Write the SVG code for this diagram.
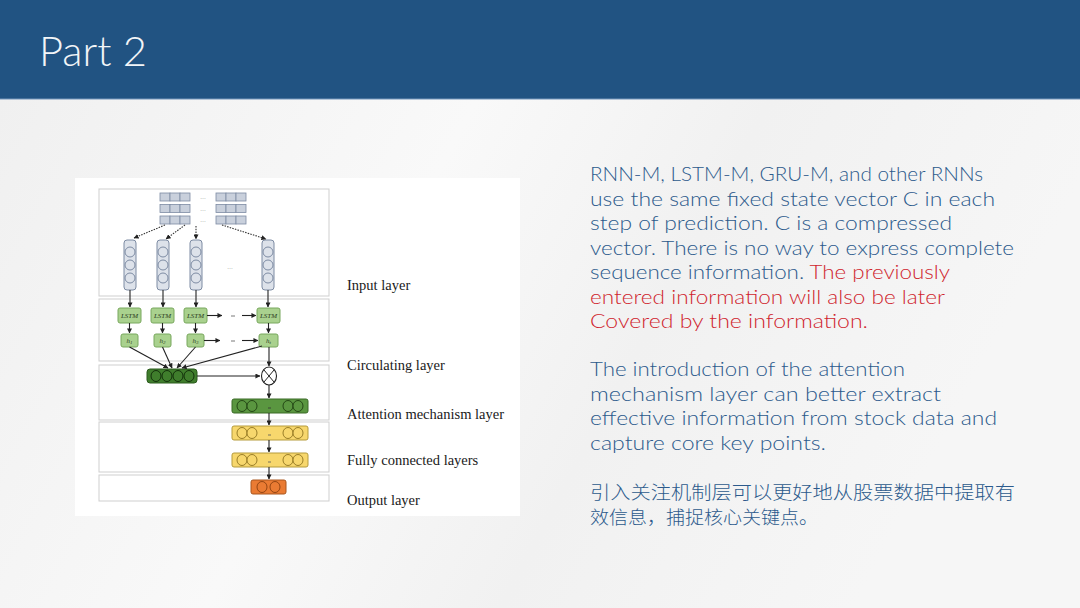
<svg xmlns="http://www.w3.org/2000/svg" width="1080" height="608" viewBox="0 0 1080 608">
<defs>
<linearGradient id="bg" x1="0" y1="0" x2="1" y2="0.3">
<stop offset="0" stop-color="#efefef"/>
<stop offset="0.45" stop-color="#f9f9f9"/>
<stop offset="0.7" stop-color="#f1f1f1"/>
<stop offset="1" stop-color="#f6f6f6"/>
</linearGradient>
<marker id="ah" viewBox="0 0 6 6" refX="5.5" refY="3" markerWidth="5" markerHeight="5" orient="auto" markerUnits="userSpaceOnUse">
<path d="M0,0 L6,3 L0,6 z" fill="#222"/>
</marker>
<style>
.sec{fill:#fff;stroke:#cfcfcf;stroke-width:1}
.cell{fill:#c9d0dc;stroke:#7d8ba3;stroke-width:0.8}
.cap{fill:#dde2ea;stroke:#7d8ba3;stroke-width:1}
.lstm{fill:#a9d18e;stroke:#79a85e;stroke-width:1}
.lt{font-family:"Liberation Serif",serif;font-style:italic;font-size:7px;fill:#2a3a20;text-anchor:middle}
.ln{stroke:#222;stroke-width:1.1;fill:none}
.dl{stroke:#333;stroke-width:1.1;fill:none;stroke-dasharray:1.5 1.2}
.lab{font-family:"Liberation Serif",serif;font-size:14.5px;fill:#1a1a1a}
.g1{fill:#3f7d2c;stroke:#2b5a1c;stroke-width:1}
.g1c{fill:#3f7d2c;stroke:#13300b;stroke-width:1}
.g2{fill:#5a9640;stroke:#3a6a26;stroke-width:1}
.g2c{fill:#5a9640;stroke:#1f3f12;stroke-width:0.9}
.y{fill:#f7d76d;stroke:#b59b3c;stroke-width:1}
.yc{fill:#f7d76d;stroke:#8f7420;stroke-width:0.9}
.o{fill:#ea7b33;stroke:#a9571f;stroke-width:1}
.oc{fill:#ea7b33;stroke:#8a3f10;stroke-width:0.9}
.tx{font-family:"Lato","Open Sans",sans-serif;font-size:19px;font-weight:300;fill:#2c5a8c}
.red{fill:#d01f2e}
.cjk{font-family:"Noto Sans CJK SC",sans-serif;font-size:18.5px;font-weight:300;fill:#2c5a8c}
.dots{font-family:"Liberation Sans",sans-serif;font-size:6px;fill:#555;text-anchor:middle}
</style>
</defs>

<rect x="0" y="0" width="1080" height="608" fill="url(#bg)"/>
<g id="header">
<rect x="0" y="0" width="1080" height="99" fill="#215382"/>
<line x1="0" y1="99" x2="1080" y2="99" stroke="#7496bb" stroke-width="1"/>
<text x="39" y="66" font-family="Lato,'Open Sans',sans-serif" font-size="41" font-weight="300" fill="#f2f5f8" textLength="108" lengthAdjust="spacingAndGlyphs">Part 2</text>
</g>

<g id="figure">
<rect x="75" y="178" width="445" height="338" fill="#fff"/>
<rect class="sec" x="99" y="189" width="230" height="107"/>
<rect class="sec" x="99" y="299" width="230" height="62"/>
<rect class="sec" x="99" y="365" width="230" height="55"/>
<rect class="sec" x="99" y="422" width="230" height="50"/>
<rect class="sec" x="99" y="475" width="230" height="26"/>
</g>

<g id="input-grids">
<rect class="cell" x="160" y="193" width="10" height="8"/><rect class="cell" x="170" y="193" width="10" height="8"/><rect class="cell" x="180" y="193" width="10" height="8"/>
<rect class="cell" x="160" y="204.5" width="10" height="8"/><rect class="cell" x="170" y="204.5" width="10" height="8"/><rect class="cell" x="180" y="204.5" width="10" height="8"/>
<rect class="cell" x="160" y="216" width="10" height="8"/><rect class="cell" x="170" y="216" width="10" height="8"/><rect class="cell" x="180" y="216" width="10" height="8"/>
<rect class="cell" x="216" y="193" width="10" height="8"/><rect class="cell" x="226" y="193" width="10" height="8"/><rect class="cell" x="236" y="193" width="10" height="8"/>
<rect class="cell" x="216" y="204.5" width="10" height="8"/><rect class="cell" x="226" y="204.5" width="10" height="8"/><rect class="cell" x="236" y="204.5" width="10" height="8"/>
<rect class="cell" x="216" y="216" width="10" height="8"/><rect class="cell" x="226" y="216" width="10" height="8"/><rect class="cell" x="236" y="216" width="10" height="8"/>
<text class="dots" x="203" y="199">…</text>
<text class="dots" x="203" y="211">…</text>
<text class="dots" x="203" y="222">…</text>
</g>

<g id="input-columns">
<rect class="cap" x="124" y="240" width="12" height="50" rx="3"/>
<circle class="cap" cx="130" cy="252" r="5"/><circle class="cap" cx="130" cy="265" r="5"/><circle class="cap" cx="130" cy="278" r="5"/>
<rect class="cap" x="157" y="240" width="12" height="50" rx="3"/>
<circle class="cap" cx="163" cy="252" r="5"/><circle class="cap" cx="163" cy="265" r="5"/><circle class="cap" cx="163" cy="278" r="5"/>
<rect class="cap" x="190" y="240" width="12" height="50" rx="3"/>
<circle class="cap" cx="196" cy="252" r="5"/><circle class="cap" cx="196" cy="265" r="5"/><circle class="cap" cx="196" cy="278" r="5"/>
<rect class="cap" x="262" y="240" width="12" height="50" rx="3"/>
<circle class="cap" cx="268" cy="252" r="5"/><circle class="cap" cx="268" cy="265" r="5"/><circle class="cap" cx="268" cy="278" r="5"/>
<text class="dots" x="230" y="269">…</text>
</g>

<g id="lstm-row">
<rect class="lstm" x="118" y="308" width="23" height="15" rx="2"/><text class="lt" x="129.5" y="318">LSTM</text>
<rect class="lstm" x="151" y="308" width="23" height="15" rx="2"/><text class="lt" x="162.5" y="318">LSTM</text>
<rect class="lstm" x="184" y="308" width="23" height="15" rx="2"/><text class="lt" x="195.5" y="318">LSTM</text>
<rect class="lstm" x="257" y="308" width="23" height="15" rx="2"/><text class="lt" x="268.5" y="318">LSTM</text>
</g>

<g id="hidden-row">
<rect class="lstm" x="121" y="334" width="17" height="13" rx="2"/><text class="lt" x="129.5" y="343">h<tspan font-size="5" dy="1">1</tspan></text>
<rect class="lstm" x="154" y="334" width="17" height="13" rx="2"/><text class="lt" x="162.5" y="343">h<tspan font-size="5" dy="1">2</tspan></text>
<rect class="lstm" x="187" y="334" width="17" height="13" rx="2"/><text class="lt" x="195.5" y="343">h<tspan font-size="5" dy="1">3</tspan></text>
<rect class="lstm" x="259" y="334" width="19" height="13" rx="2"/><text class="lt" x="268.5" y="343">h<tspan font-size="5" dy="1">t</tspan></text>
</g>

<g id="circulating-vector">
<rect class="g1" x="147" y="369" width="50" height="14" rx="3"/>
<ellipse class="g1c" cx="156" cy="376" rx="5" ry="5.5"/>
<ellipse class="g1c" cx="167" cy="376" rx="5" ry="5.5"/>
<ellipse class="g1c" cx="178" cy="376" rx="5" ry="5.5"/>
<ellipse class="g1c" cx="189" cy="376" rx="5" ry="5.5"/>
</g>

<g id="multiply">
<ellipse cx="269" cy="376" rx="7.5" ry="9" fill="#fff" stroke="#222" stroke-width="1.1"/>
<line x1="264" y1="370" x2="274" y2="382" stroke="#222" stroke-width="1"/>
<line x1="274" y1="370" x2="264" y2="382" stroke="#222" stroke-width="1"/>
</g>

<g id="attention-vector">
<rect class="g2" x="232" y="399" width="76" height="14" rx="2"/>
<ellipse class="g2c" cx="242" cy="406" rx="5" ry="5.5"/><ellipse class="g2c" cx="252" cy="406" rx="5" ry="5.5"/>
<ellipse class="g2c" cx="288" cy="406" rx="5" ry="5.5"/><ellipse class="g2c" cx="298" cy="406" rx="5" ry="5.5"/>
<line x1="268" y1="408" x2="271" y2="408" stroke="#333" stroke-width="0.8"/>
</g>

<g id="fc-vector-1">
<rect class="y" x="232" y="426" width="76" height="14" rx="2"/>
<ellipse class="yc" cx="242" cy="433" rx="5" ry="5.5"/><ellipse class="yc" cx="252" cy="433" rx="5" ry="5.5"/>
<ellipse class="yc" cx="288" cy="433" rx="5" ry="5.5"/><ellipse class="yc" cx="298" cy="433" rx="5" ry="5.5"/>
<line x1="268" y1="435" x2="271" y2="435" stroke="#555" stroke-width="0.8"/>
</g>

<g id="fc-vector-2">
<rect class="y" x="232" y="453" width="76" height="14" rx="2"/>
<ellipse class="yc" cx="242" cy="460" rx="5" ry="5.5"/><ellipse class="yc" cx="252" cy="460" rx="5" ry="5.5"/>
<ellipse class="yc" cx="288" cy="460" rx="5" ry="5.5"/><ellipse class="yc" cx="298" cy="460" rx="5" ry="5.5"/>
<line x1="268" y1="462" x2="271" y2="462" stroke="#555" stroke-width="0.8"/>
</g>

<g id="output-vector">
<rect class="o" x="251" y="480" width="35" height="14" rx="2"/>
<ellipse class="oc" cx="262" cy="487" rx="5" ry="5.5"/><ellipse class="oc" cx="275" cy="487" rx="5" ry="5.5"/>
</g>

<g id="connectors">
<line class="dl" x1="165" y1="225" x2="134" y2="238" marker-end="url(#ah)"/>
<line class="dl" x1="185" y1="225" x2="166" y2="239" marker-end="url(#ah)"/>
<line class="dl" x1="196" y1="226" x2="196" y2="239" marker-end="url(#ah)"/>
<line class="dl" x1="222" y1="225" x2="266" y2="239" marker-end="url(#ah)"/>
<line class="ln" x1="130" y1="290" x2="130" y2="307" marker-end="url(#ah)"/>
<line class="ln" x1="163" y1="290" x2="163" y2="307" marker-end="url(#ah)"/>
<line class="ln" x1="196" y1="290" x2="196" y2="307" marker-end="url(#ah)"/>
<line class="ln" x1="268" y1="290" x2="268" y2="307" marker-end="url(#ah)"/>
<line class="ln" x1="129.5" y1="323" x2="129.5" y2="333" marker-end="url(#ah)"/>
<line class="ln" x1="162.5" y1="323" x2="162.5" y2="333" marker-end="url(#ah)"/>
<line class="ln" x1="195.5" y1="323" x2="195.5" y2="333" marker-end="url(#ah)"/>
<line class="ln" x1="268.5" y1="323" x2="268.5" y2="333" marker-end="url(#ah)"/>
<line class="ln" x1="207" y1="315.5" x2="222" y2="315.5" marker-end="url(#ah)"/>
<line x1="231" y1="316" x2="235" y2="316" stroke="#555" stroke-width="0.8"/>
<line class="ln" x1="242" y1="315.5" x2="256" y2="315.5" marker-end="url(#ah)"/>
<line class="ln" x1="204" y1="340.5" x2="220" y2="340.5" marker-end="url(#ah)"/>
<line x1="231" y1="341" x2="235" y2="341" stroke="#555" stroke-width="0.8"/>
<line class="ln" x1="242" y1="340.5" x2="258" y2="340.5" marker-end="url(#ah)"/>
<line class="ln" x1="129.5" y1="347" x2="168" y2="368" marker-end="url(#ah)"/>
<line class="ln" x1="162.5" y1="347" x2="172" y2="368" marker-end="url(#ah)"/>
<line class="ln" x1="195.5" y1="347" x2="177" y2="368" marker-end="url(#ah)"/>
<line class="ln" x1="262" y1="346" x2="182" y2="368" marker-end="url(#ah)"/>
<line class="ln" x1="197" y1="376" x2="260" y2="376" marker-end="url(#ah)"/>
<line class="ln" x1="269" y1="347" x2="269" y2="366" marker-end="url(#ah)"/>
<line class="ln" x1="269" y1="385" x2="269" y2="398" marker-end="url(#ah)"/>
<line class="ln" x1="269" y1="413" x2="269" y2="425" marker-end="url(#ah)"/>
<line class="ln" x1="269" y1="440" x2="269" y2="452" marker-end="url(#ah)"/>
<line class="ln" x1="269" y1="467" x2="269" y2="479" marker-end="url(#ah)"/>
</g>

<g id="layer-labels">
<text class="lab" x="347" y="290">Input layer</text>
<text class="lab" x="347" y="370">Circulating layer</text>
<text class="lab" x="347" y="419">Attention mechanism layer</text>
<text class="lab" x="347" y="465">Fully connected layers</text>
<text class="lab" x="347" y="505">Output layer</text>
</g>

<g id="paragraph-1">
<text class="tx" x="590" y="181" textLength="393" lengthAdjust="spacingAndGlyphs">RNN-M, LSTM-M, GRU-M, and other RNNs</text>
<text class="tx" x="590" y="205.5" textLength="405" lengthAdjust="spacingAndGlyphs">use the same fixed state vector C in each</text>
<text class="tx" x="590" y="230" textLength="362" lengthAdjust="spacingAndGlyphs">step of prediction. C is a compressed</text>
<text class="tx" x="590" y="254.5" textLength="424" lengthAdjust="spacingAndGlyphs">vector. There is no way to express complete</text>
<text class="tx" x="590" y="279" textLength="360" lengthAdjust="spacingAndGlyphs">sequence information. <tspan class="red">The previously</tspan></text>
<text class="tx red" x="590" y="303.5" textLength="355" lengthAdjust="spacingAndGlyphs">entered information will also be later</text>
<text class="tx red" x="590" y="328" textLength="278" lengthAdjust="spacingAndGlyphs">Covered by the information.</text>
</g>

<g id="paragraph-2">
<text class="tx" x="590" y="376" textLength="315" lengthAdjust="spacingAndGlyphs">The introduction of the attention</text>
<text class="tx" x="590" y="400.5" textLength="351" lengthAdjust="spacingAndGlyphs">mechanism layer can better extract</text>
<text class="tx" x="590" y="425" textLength="407" lengthAdjust="spacingAndGlyphs">effective information from stock data and</text>
<text class="tx" x="590" y="449.5" textLength="236" lengthAdjust="spacingAndGlyphs">capture core key points.</text>
</g>

<g id="paragraph-3">
<text class="cjk" x="590" y="499" textLength="425" lengthAdjust="spacingAndGlyphs">引入关注机制层可以更好地从股票数据中提取有</text>
<text class="cjk" x="590" y="524" textLength="228" lengthAdjust="spacingAndGlyphs">效信息，捕捉核心关键点。</text>
</g>
</svg>
